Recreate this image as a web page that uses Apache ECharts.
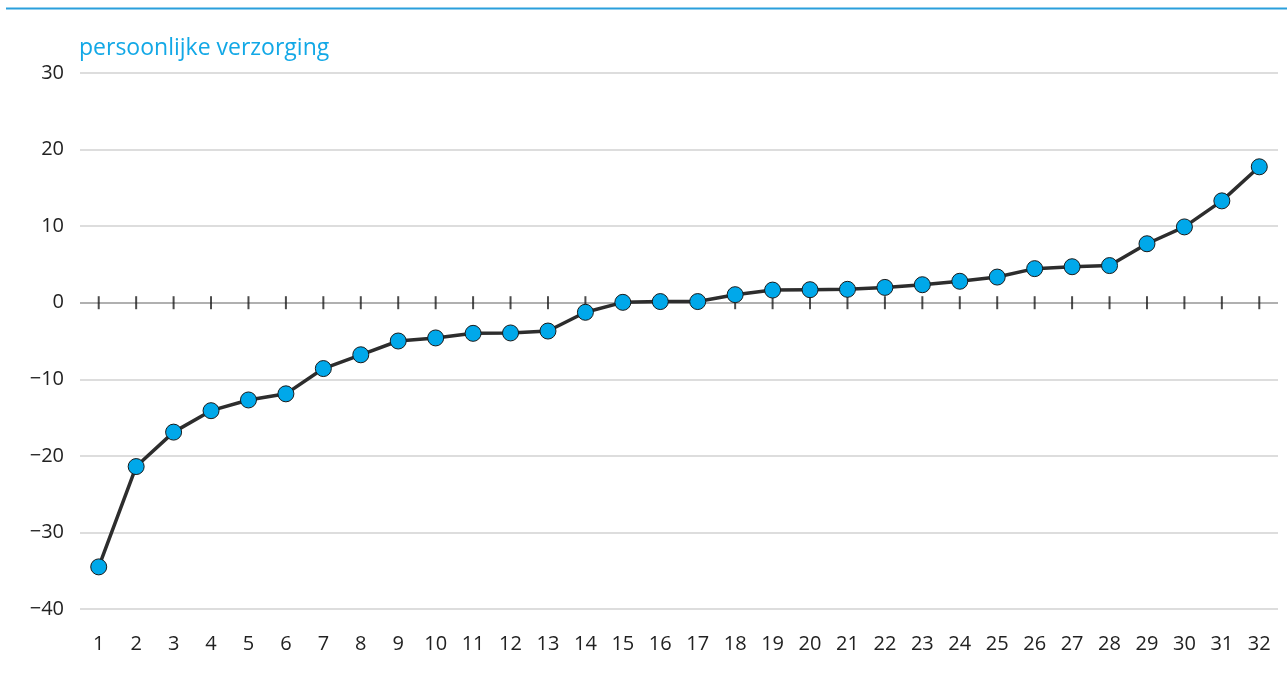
<!DOCTYPE html>
<html><head><meta charset="utf-8">
<script src="https://cdn.jsdelivr.net/npm/echarts@6/dist/echarts.min.js"></script>
<style>html,body{margin:0;padding:0;background:#fff}#c{width:1287px;height:691px}</style>
</head><body><div id="c"></div>
<script>
const categories = ['1','2','3','4','5','6','7','8','9','10','11','12','13','14','15','16','17','18','19','20','21','22','23','24','25','26','27','28','29','30','31','32'];
const values = [-34.5,-21.4,-16.9,-14.1,-12.7,-11.9,-8.6,-6.8,-5.0,-4.6,-4.0,-3.95,-3.7,-1.25,0.05,0.15,0.15,1.05,1.65,1.7,1.75,2.0,2.35,2.8,3.35,4.45,4.7,4.85,7.7,9.9,13.3,17.75];
const yTicks = {min:-40, max:30, interval:10};
const title = 'persoonlijke verzorging';

const chart = echarts.init(document.getElementById('c'), null, {renderer:'canvas'});
const font = 'Open Sans';
chart.setOption({
  animation:false,
  backgroundColor:'#fff',
  graphic:[{type:'line', shape:{x1:6,y1:8.5,x2:1287,y2:8.5}, style:{stroke:'#2a9fdc', lineWidth:2}},
           {type:'text', left:79, top:37, style:{text:title, fill:'#12a8e6', font:'23px "Open Sans"'}}],
  grid:{left:80, right:9, top:73, bottom:82, containLabel:false},
  xAxis:{type:'category', data:categories, position:'bottom', boundaryGap:true,
     axisLine:{show:false, onZero:false}, axisTick:{show:false},
     axisLabel:{margin:25, color:'#222', fontSize:20, fontFamily:font}},
  yAxis:{type:'value', min:yTicks.min, max:yTicks.max, interval:yTicks.interval,
    axisLine:{show:false}, axisTick:{show:false},
    axisLabel:{margin:16, color:'#222', fontSize:20, fontFamily:font,
      formatter:v => v < 0 ? '\u2212' + Math.abs(v) : String(v)},
    splitLine:{show:true, lineStyle:{color:'#d2d2d2', width:1.5}}},
  series:[
    {type:'scatter', data:categories.map(() => 0), symbol:'rect', symbolSize:[2, 13],
     itemStyle:{color:'#1e1e1e'}, silent:true, z:3,
     markLine:{silent:true, symbol:'none', label:{show:false}, z:2,
       lineStyle:{color:'#b0b0b0', width:2, type:'solid'}, data:[{yAxis:0}]}},
    {type:'line', data:values, symbol:'circle', symbolSize:16,
    lineStyle:{color:'#2d2d2d', width:3.5},
    itemStyle:{color:'#00a8ea', borderColor:'#1a1a1a', borderWidth:1},
    z:5}]
});
</script></body></html>
